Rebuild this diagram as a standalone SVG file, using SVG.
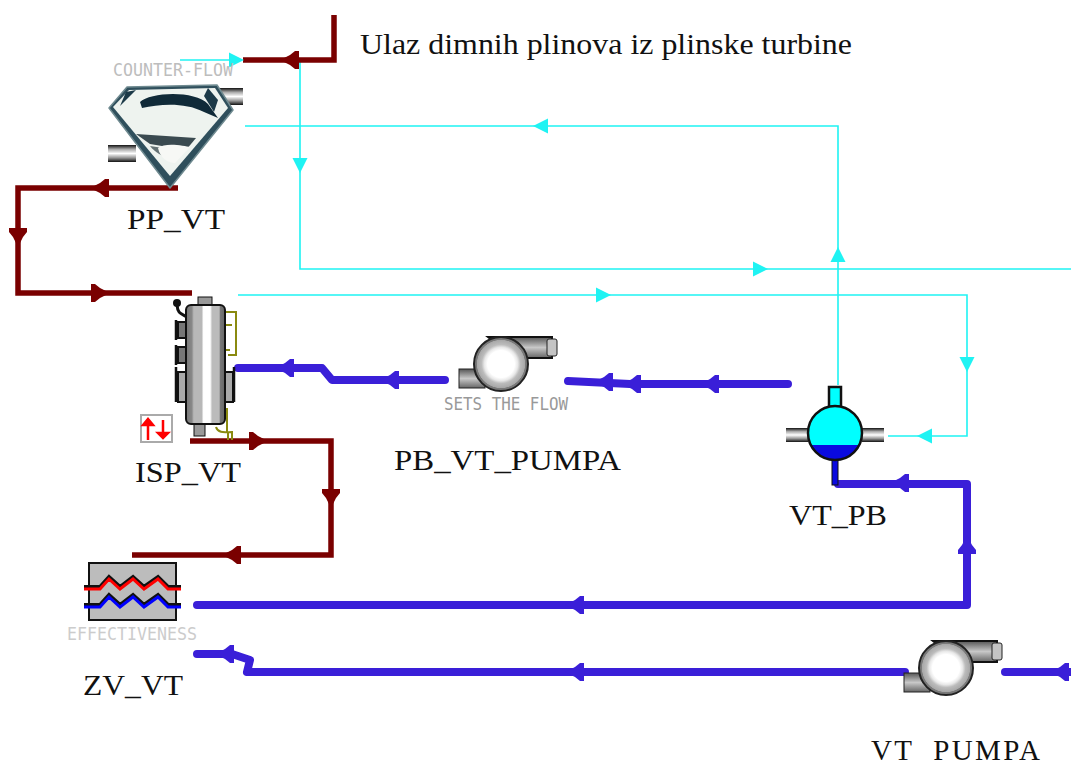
<svg xmlns="http://www.w3.org/2000/svg" width="1071" height="765" viewBox="0 0 1071 765">
<style>
.t{font-family:"Liberation Serif","Times New Roman",serif;font-size:29px;fill:#111}
.p{font-family:"DejaVu Sans Mono","Liberation Mono",monospace;font-size:18px}
.r,.b,.c{fill:none;stroke-linejoin:miter}
.r{stroke:#7a0000;stroke-width:5.500}
.b{stroke:#3a1fd8;stroke-width:8;stroke-linecap:round;stroke-linejoin:round}
.c{stroke:#1ff3f3;stroke-width:1.6}
.fr{fill:#7a0000}.fb{fill:#3a1fd8}.fc{fill:#1ff3f3}
</style>
<defs>
<path id="a" d="M-10 0L0 -5L5 -9H9V9H5L0 5Z"/>
<polygon id="ac" points="-8,0 7,-7.500 7,7.500"/>
<radialGradient id="pg"><stop offset="0.5" stop-color="#fff"/><stop offset="0.62" stop-color="#e8e8e8"/><stop offset="0.72" stop-color="#bcbcbc"/><stop offset="0.88" stop-color="#a8a8a8"/><stop offset="0.9" stop-color="#7a7a7a"/><stop offset="1" stop-color="#777"/></radialGradient>
<linearGradient id="pipeH" x1="0" y1="0" x2="0" y2="1"><stop offset="0" stop-color="#555"/><stop offset="0.5" stop-color="#c8c8c8"/><stop offset="1" stop-color="#666"/></linearGradient>
<linearGradient id="pipeK" x1="0" y1="0" x2="0" y2="1"><stop offset="0" stop-color="#111"/><stop offset="0.25" stop-color="#aaa"/><stop offset="0.5" stop-color="#fff"/><stop offset="0.75" stop-color="#999"/><stop offset="1" stop-color="#111"/></linearGradient>
<linearGradient id="ves" x1="0" y1="0" x2="1" y2="0"><stop offset="0" stop-color="#777"/><stop offset="0.15" stop-color="#888"/><stop offset="0.2" stop-color="#b8b8b8"/><stop offset="0.4" stop-color="#b8b8b8"/><stop offset="0.45" stop-color="#fff"/><stop offset="0.62" stop-color="#fff"/><stop offset="0.67" stop-color="#bbb"/><stop offset="0.85" stop-color="#bbb"/><stop offset="0.88" stop-color="#777"/><stop offset="1" stop-color="#666"/></linearGradient>
<g id="pump">
<rect x="459" y="369" width="26" height="19" fill="url(#pipeH)" stroke="#222"/>
<path d="M488 337H552V358H515Z" fill="url(#pipeH)" stroke="#111" stroke-width="2"/>
<rect x="547" y="339" width="10" height="17" rx="2" fill="#c4c4c4" stroke="#222"/>
<circle cx="501" cy="364" r="27" fill="url(#pg)" stroke="#222" stroke-width="2"/>
</g>
</defs>
<g id="connectors">
<path class="c" d="M180 60H240"/>
<path class="c" d="M300 60V269H1071"/>
<path class="c" d="M245 126H838V385"/>
<path class="c" d="M238 295H967V436H888"/>
<path class="r" d="M334 15V60H243"/>
<path class="r" d="M178 188H18V293H192"/>
<path class="r" d="M190 441H331V555H132"/>
<path class="b" d="M238 368H322L332 380H445"/>
<path class="b" d="M788 384H630L568 381"/>
<path class="b" d="M838 484H967V605H197"/>
<path class="b" d="M197 654H232L250 660L247 672H905"/>
<path class="b" d="M1005 672H1071"/>
<g class="fr">
<use href="#a" transform="translate(290 60)"/>
<use href="#a" transform="translate(100 188)"/>
<use href="#a" transform="translate(18 237) rotate(-90)"/>
<use href="#a" transform="translate(100 293) rotate(180)"/>
<use href="#a" transform="translate(258 441) rotate(180)"/>
<use href="#a" transform="translate(331 498) rotate(-90)"/>
<use href="#a" transform="translate(232 555)"/>
</g>
<g class="fb">
<use href="#a" transform="translate(285 368)"/>
<use href="#a" transform="translate(390 380)"/>
<use href="#a" transform="translate(710 384)"/>
<use href="#a" transform="translate(632 384)"/>
<use href="#a" transform="translate(604 382)"/>
<use href="#a" transform="translate(900 483)"/>
<use href="#a" transform="translate(967 545) rotate(90)"/>
<use href="#a" transform="translate(575 605)"/>
<use href="#a" transform="translate(225 654)"/>
<use href="#a" transform="translate(575 672)"/>
<use href="#a" transform="translate(1060 672)"/>
</g>
<g class="fc">
<use href="#ac" transform="translate(236 60) rotate(180)"/>
<use href="#ac" transform="translate(300 165) rotate(-90)"/>
<use href="#ac" transform="translate(760 269) rotate(180)"/>
<use href="#ac" transform="translate(541 126)"/>
<use href="#ac" transform="translate(838 255) rotate(90)"/>
<use href="#ac" transform="translate(603 295) rotate(180)"/>
<use href="#ac" transform="translate(967 364) rotate(-90)"/>
<use href="#ac" transform="translate(925 436)"/>
</g>
</g>
<g id="PP_VT">
<rect x="218" y="88" width="25" height="17" fill="url(#pipeK)"/>
<rect x="108" y="145" width="28" height="17" fill="url(#pipeK)"/>
<path d="M109 108L127 87L217 85L233 110L170 188Z" fill="#2f4f5c" stroke="#6f8a90" stroke-width="1.500" stroke-linejoin="round"/>
<path d="M113 107L129 90L215 88L228 108L170 176Z" fill="#eef3ef"/>
<path d="M140 102C150 92 195 90 208 104L218 118L204 112C185 102 160 104 142 108Z" fill="#102a38"/>
<path d="M126 92L136 90L120 106Z" fill="#1c3a48"/>
<path d="M208 88L218 100L214 112L204 96Z" fill="#1c3a48"/>
<path d="M136 134L196 138L186 150L150 144Z" fill="#3a4a50"/>
<path d="M150 146L176 150C172 160 160 158 150 146Z" fill="#2a3a40" opacity="0.7"/>
<path d="M158 148C165 142 185 146 190 147L175 163C168 163 160 158 158 148Z" fill="#f7f8f5"/>
<text class="p" x="113" y="76" fill="#bdbdbd" textLength="120" lengthAdjust="spacingAndGlyphs">COUNTER-FLOW</text>
<text class="t" x="127" y="229" textLength="98" lengthAdjust="spacingAndGlyphs">PP_VT</text>
</g>
<g id="ISP_VT">
<path d="M177 305C178 316 183 313 188 318" fill="none" stroke="#111" stroke-width="3"/>
<circle cx="177" cy="303" r="4" fill="#111"/>
<path d="M226 312H236V355H228M230 350H226M232 325H226" fill="none" stroke="#8a8a10" stroke-width="2"/>
<path d="M227 408V432M216 427C218 434 226 432 232 432V440M228 432V440" fill="none" stroke="#8a8a10" stroke-width="2"/>
<rect x="178" y="322" width="8" height="16" fill="#777" stroke="#111" stroke-width="2"/>
<rect x="178" y="347" width="8" height="16" fill="#777" stroke="#111" stroke-width="2"/>
<rect x="178" y="372" width="8" height="30" fill="#aaa" stroke="#111" stroke-width="2"/>
<rect x="225" y="372" width="8" height="30" fill="#aaa" stroke="#111" stroke-width="2"/>
<path d="M176 320V340M176 345V365M176 367V402M234 367V402" stroke="#111" stroke-width="2.500"/>
<rect x="198" y="297" width="14" height="8" fill="#999" stroke="#111"/>
<rect x="194" y="424" width="11" height="12" fill="#999" stroke="#111"/>
<rect x="186" y="305" width="39" height="119" rx="5" fill="url(#ves)" stroke="#111" stroke-width="2"/>
<rect x="141" y="415" width="31" height="27" fill="#fff" stroke="#aaa" stroke-width="2"/>
<path d="M148 440V420M143 425L148 419L153 425Z M163 420V433M158 433H168L163 438Z" stroke="#f00" stroke-width="2.500" fill="#f00"/>
<text class="t" x="135" y="482" textLength="106" lengthAdjust="spacingAndGlyphs">ISP_VT</text>
</g>
<g id="PB_VT_PUMPA">
<use href="#pump"/>
<text class="p" x="444" y="410" fill="#999" textLength="124" lengthAdjust="spacingAndGlyphs">SETS THE FLOW</text>
<text class="t" x="394" y="470" textLength="227" lengthAdjust="spacingAndGlyphs">PB_VT_PUMPA</text>
</g>
<g id="VT_PB">
<rect x="786" y="428" width="22" height="14" fill="url(#pipeK)"/>
<rect x="862" y="428" width="22" height="14" fill="url(#pipeK)"/>
<rect x="829" y="387" width="12" height="20" fill="#0ff" stroke="#111" stroke-width="2.500"/>
<rect x="832" y="458" width="6" height="27" fill="#0a0ae0" stroke="#111"/>
<circle cx="835" cy="433" r="27" fill="#0ff"/>
<path d="M811 445A27 27 0 0 0 859 445Z" fill="#0a0ae0"/>
<circle cx="835" cy="433" r="27" fill="none" stroke="#111" stroke-width="2.500"/>
<text class="t" x="789" y="525" textLength="98" lengthAdjust="spacingAndGlyphs">VT_PB</text>
</g>
<g id="ZV_VT">
<rect x="89" y="563" width="87" height="57" fill="#bcbcbc" stroke="#111" stroke-width="2"/>
<path d="M84 587H100L109 577L120 587L133 577L144 587L158 577L168 587H181" fill="none" stroke="#111" stroke-width="4"/>
<path d="M84 589H100L109 579L120 589L133 579L144 589L158 579L168 589H181" fill="none" stroke="#f00" stroke-width="3"/>
<path d="M84 605H100L109 595L120 605L133 595L144 605L158 595L168 605H181" fill="none" stroke="#111" stroke-width="4"/>
<path d="M84 607H100L109 597L120 607L133 597L144 607L158 597L168 607H181" fill="none" stroke="#00f" stroke-width="3"/>
<text class="p" x="67" y="640" fill="#ccc" textLength="130" lengthAdjust="spacingAndGlyphs">EFFECTIVENESS</text>
<text class="t" x="83" y="695" textLength="100" lengthAdjust="spacingAndGlyphs">ZV_VT</text>
</g>
<g id="VT_PUMPA">
<use href="#pump" transform="translate(445 304)"/>
<text class="t" x="871" y="760" textLength="169" lengthAdjust="spacing" xml:space="preserve">VT  PUMPA</text>
</g>
<text class="t" x="360" y="54" textLength="492" lengthAdjust="spacingAndGlyphs">Ulaz dimnih plinova iz plinske turbine</text>
</svg>
